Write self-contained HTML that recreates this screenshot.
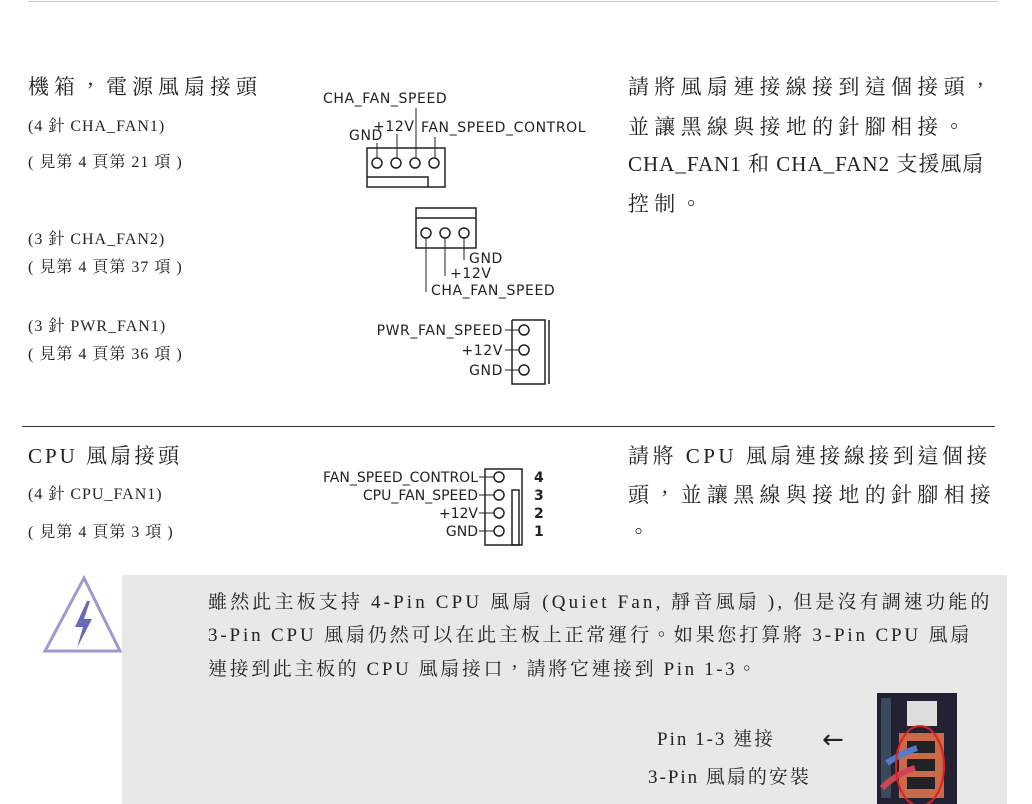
<!DOCTYPE html>
<html><head><meta charset="utf-8"><style>
body{margin:0;width:1032px;height:804px;background:#fff;position:relative;overflow:hidden;font-family:"Liberation Serif","Noto Serif CJK TC","Noto Serif CJK SC",serif;color:#222}
.t{position:absolute;white-space:nowrap;line-height:1}
.h{font-size:21px;letter-spacing:5px}
.s{font-size:16px;letter-spacing:1px}
.r{font-size:21px;letter-spacing:5.3px}
.b{font-size:19px;letter-spacing:3px}
</style></head><body>
<div style="position:absolute;left:28px;top:1px;width:970px;height:1px;background:#ccc"></div>
<div style="position:absolute;left:22px;top:426px;width:973px;height:1px;background:#333"></div>

<div class="t h" style="left:28px;top:77px">機箱，電源風扇接頭</div>
<div class="t s" style="left:28px;top:119px">(4 針 CHA_FAN1)</div>
<div class="t s" style="left:28px;top:155px">( 見第 4 頁第 21 項 )</div>
<div class="t s" style="left:28px;top:232px">(3 針 CHA_FAN2)</div>
<div class="t s" style="left:28px;top:260px">( 見第 4 頁第 37 項 )</div>
<div class="t s" style="left:28px;top:319px">(3 針 PWR_FAN1)</div>
<div class="t s" style="left:28px;top:347px">( 見第 4 頁第 36 項 )</div>

<div class="t r" style="left:628px;top:77px">請將風扇連接線接到這個接頭，</div>
<div class="t r" style="left:628px;top:117px">並讓黑線與接地的針腳相接。</div>
<div class="t r" style="left:628px;top:154px;letter-spacing:1px">CHA_FAN1 和 CHA_FAN2 支援風扇</div>
<div class="t r" style="left:628px;top:194px">控制。</div>

<div class="t h" style="left:28px;top:446px;letter-spacing:3px">CPU 風扇接頭</div>
<div class="t s" style="left:28px;top:487px">(4 針 CPU_FAN1)</div>
<div class="t s" style="left:28px;top:525px">( 見第 4 頁第 3 項 )</div>
<div class="t r" style="left:628px;top:446px;letter-spacing:3.5px">請將 CPU 風扇連接線接到這個接</div>
<div class="t r" style="left:628px;top:485px">頭，並讓黑線與接地的針腳相接</div>
<div class="t r" style="left:628px;top:522px">。</div>

<div style="position:absolute;left:122px;top:575px;width:885px;height:229px;background:#e8e8e8"></div>
<svg style="position:absolute;left:40px;top:575px" width="85" height="80">
<polygon points="44,3 80,76 5,76" fill="#fff" stroke="#9b9bd0" stroke-width="3"/>
<polygon points="47,26 35,52 43,52 37,73 52,44 44,44 50,26" fill="#6a6ab8"/>
</svg>
<div class="t b" style="left:208px;top:593px;letter-spacing:3.15px">雖然此主板支持 4-Pin CPU 風扇 (Quiet Fan, 靜音風扇 ), 但是沒有調速功能的</div>
<div class="t b" style="left:208px;top:626px;letter-spacing:2.85px">3-Pin CPU 風扇仍然可以在此主板上正常運行。如果您打算將 3-Pin CPU 風扇</div>
<div class="t b" style="left:208px;top:660px;letter-spacing:2.6px">連接到此主板的 CPU 風扇接口，請將它連接到 Pin 1-3。</div>
<div class="t b" style="left:657px;top:730px;letter-spacing:2px">Pin 1-3 連接</div>
<div class="t b" style="left:648px;top:768px;letter-spacing:2px">3-Pin 風扇的安裝</div>
<div class="t" style="left:822px;top:727px;font-size:26px;font-family:'DejaVu Sans'">←</div>
<svg style="position:absolute;left:877px;top:693px" width="80" height="111">
<rect width="80" height="111" fill="#223"/>
<rect x="4" y="5" width="10" height="100" fill="#3a4a5a"/>
<rect x="30" y="8" width="30" height="25" fill="#ddd"/>
<rect x="22" y="40" width="45" height="65" fill="#c96a4a"/>
<rect x="30" y="48" width="28" height="12" fill="#222"/>
<rect x="30" y="66" width="28" height="12" fill="#222"/>
<rect x="30" y="84" width="28" height="12" fill="#222"/>
<path d="M10,70 Q25,60 40,55" stroke="#5577cc" stroke-width="6" fill="none"/>
<path d="M5,95 Q20,80 38,75" stroke="#cc4455" stroke-width="6" fill="none"/>
<ellipse cx="43" cy="73" rx="24" ry="40" fill="none" stroke="#e02020" stroke-width="2"/>
</svg>

<svg style="position:absolute;left:0;top:0" width="1032" height="430" font-family="DejaVu Sans, Liberation Sans, sans-serif" font-size="14" letter-spacing="0.6" fill="#222">
<g stroke="#222" fill="none" stroke-width="1.5">
<rect x="367" y="148" width="78" height="39"/>
<polyline points="367,177 428,177 428,187"/>
<circle cx="377" cy="163" r="5"/><circle cx="396" cy="163" r="5"/><circle cx="415" cy="163" r="5"/><circle cx="434" cy="163" r="5"/>
<line x1="377" y1="143" x2="377" y2="158" stroke-width="1"/>
<line x1="397" y1="134" x2="397" y2="158" stroke-width="1"/>
<line x1="416" y1="108" x2="416" y2="158" stroke-width="1"/>
<line x1="435" y1="137" x2="435" y2="158" stroke-width="1"/>
<rect x="416" y="208" width="60" height="40"/>
<line x1="416" y1="218" x2="476" y2="218"/>
<circle cx="426" cy="233" r="5"/><circle cx="445" cy="233" r="5"/><circle cx="464" cy="233" r="5"/>
<line x1="426" y1="238" x2="426" y2="292" stroke-width="1"/>
<line x1="445" y1="238" x2="445" y2="276" stroke-width="1"/>
<line x1="464" y1="238" x2="464" y2="260" stroke-width="1"/>
<polyline points="512,320 545,320 545,384 512,384 512,320"/>
<line x1="549" y1="320" x2="549" y2="384"/>
<circle cx="524" cy="330" r="5"/><circle cx="524" cy="350" r="5"/><circle cx="524" cy="370" r="5"/>
<line x1="505" y1="330" x2="519" y2="330" stroke-width="1"/>
<line x1="505" y1="350" x2="519" y2="350" stroke-width="1"/>
<line x1="505" y1="370" x2="519" y2="370" stroke-width="1"/>
</g>
<text x="323" y="103">CHA_FAN_SPEED</text>
<text x="373" y="131">+12V</text>
<text x="349" y="140">GND</text>
<text x="421" y="132">FAN_SPEED_CONTROL</text>
<text x="469" y="263">GND</text>
<text x="450" y="278">+12V</text>
<text x="431" y="295">CHA_FAN_SPEED</text>
<text x="503" y="335" text-anchor="end">PWR_FAN_SPEED</text>
<text x="503" y="355" text-anchor="end">+12V</text>
<text x="503" y="375" text-anchor="end">GND</text>
</svg>

<svg style="position:absolute;left:300px;top:460px" width="280" height="100" font-family="DejaVu Sans, Liberation Sans, sans-serif" font-size="14" fill="#222">
<g stroke="#222" fill="none" stroke-width="1.5">
<rect x="185" y="9" width="37" height="76"/>
<rect x="212" y="30" width="7" height="55"/>
<circle cx="199" cy="17" r="5"/><circle cx="199" cy="35" r="5"/><circle cx="199" cy="53" r="5"/><circle cx="199" cy="71" r="5"/>
<line x1="179" y1="17" x2="194" y2="17" stroke-width="1"/>
<line x1="179" y1="35" x2="194" y2="35" stroke-width="1"/>
<line x1="179" y1="53" x2="194" y2="53" stroke-width="1"/>
<line x1="179" y1="71" x2="194" y2="71" stroke-width="1"/>
</g>
<text x="178" y="22" text-anchor="end">FAN_SPEED_CONTROL</text>
<text x="178" y="40" text-anchor="end">CPU_FAN_SPEED</text>
<text x="178" y="58" text-anchor="end">+12V</text>
<text x="178" y="76" text-anchor="end">GND</text>
<g font-weight="bold" font-size="14"><text x="234" y="22">4</text><text x="234" y="40">3</text><text x="234" y="58">2</text><text x="234" y="76">1</text></g>
</svg>
</body></html>
